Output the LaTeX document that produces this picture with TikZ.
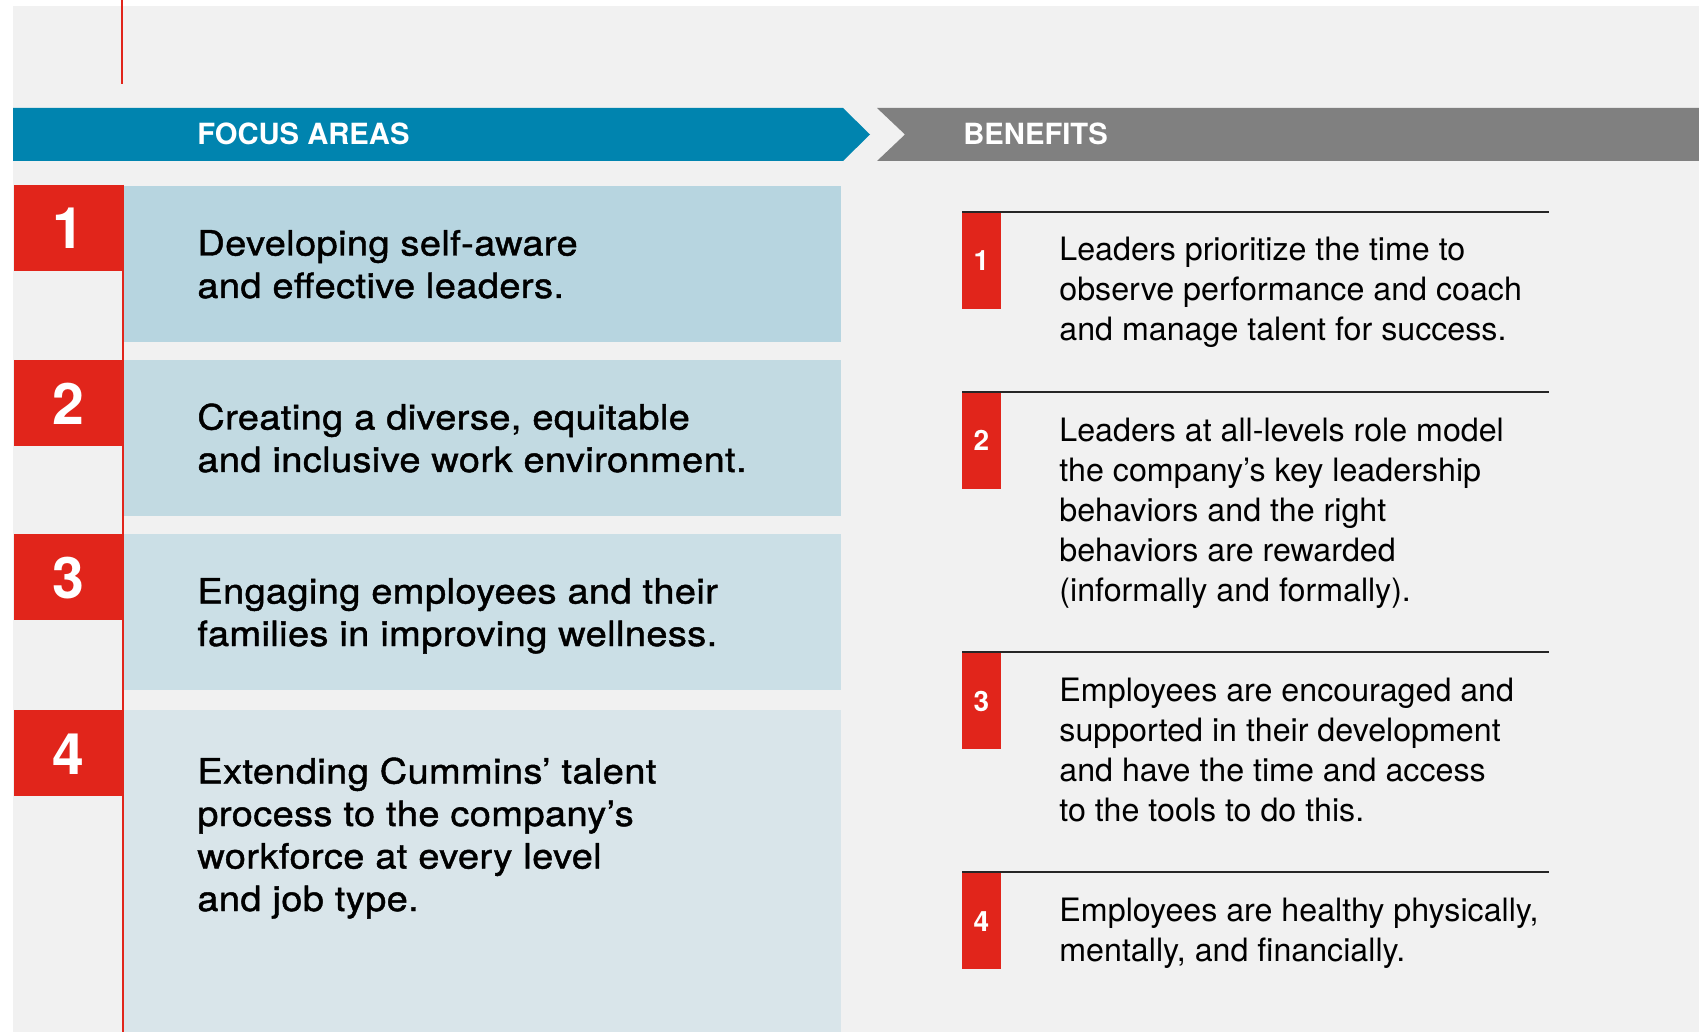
\documentclass[tikz,border=0pt]{standalone}
\usepackage{fontspec}
\setmainfont{TeX Gyre Heros}
\newfontfamily\medfont{TeX Gyre Heros}[FakeBold=1.3,FakeStretch=1.09,LetterSpace=1.2]

\definecolor{cumred}{HTML}{E1251B}
\definecolor{cumblue}{HTML}{0084AF}
\definecolor{cumgrey}{HTML}{808080}
\definecolor{paper}{HTML}{F1F1F1}
\definecolor{rowa}{HTML}{B7D5E0}
\definecolor{rowb}{HTML}{C2DAE2}
\definecolor{rowc}{HTML}{CBDFE6}
\definecolor{rowd}{HTML}{D9E5EA}

\tikzset{
  headtext/.style={text=white,font=\fontsize{14.6}{16}\selectfont\bfseries,anchor=base west,inner sep=0pt},
  bignum/.style={text=white,font=\fontsize{28.6}{30}\selectfont\bfseries,anchor=base,inner sep=0pt},
  smallnum/.style={text=white,font=\fontsize{14}{16}\selectfont\bfseries,anchor=base,inner sep=0pt},
  areatext/.style={font=\fontsize{17.4}{21.25}\selectfont\medfont,align=left,anchor=base west,inner sep=0pt},
  benefittext/.style={font=\fontsize{16.1}{20}\selectfont,align=left,anchor=base west,inner sep=0pt},
  rule/.style={draw=black!85,line width=0.75pt}
}

\begin{document}
\begin{tikzpicture}[x=0.5pt,y=-0.5pt]
  \useasboundingbox (0,0) rectangle (1699,1032);
  \fill[paper] (13,6) rectangle (1699,1032);
  \draw[cumred,line width=1pt] (122,0) -- (122,84);

  % header bars
  \fill[cumblue] (13,108) -- (843,108) -- (870,134.5) -- (843,161) -- (13,161) -- cycle;
  \fill[cumgrey] (877,108) -- (1699,108) -- (1699,161) -- (877,161) -- (905,134.5) -- cycle;
  \node[headtext] (focus) at (197,145) {FOCUS AREAS};
  \node[headtext] (benefits) at (963,145) {BENEFITS};

  % focus areas (y of a text = baseline of its last line)
  \fill[rowa] (124,186) rectangle (841,342);
  \fill[rowb] (124,360) rectangle (841,516);
  \fill[rowc] (124,534) rectangle (841,690);
  \fill[rowd] (124,710) rectangle (841,1032);
  \draw[cumred,line width=1pt] (122.5,185) -- (122.5,1032);
  \fill[cumred] (14,185) rectangle (124,271);
  \fill[cumred] (14,360) rectangle (124,446);
  \fill[cumred] (14,534) rectangle (124,620);
  \fill[cumred] (14,710) rectangle (124,796);
  \node[bignum] (n1) at (68,249) {1};
  \node[bignum] (n2) at (68,424) {2};
  \node[bignum] (n3) at (68,598) {3};
  \node[bignum] (n4) at (68,774) {4};
  \node[areatext] (a1) at (197,298) {Developing self-aware\\and effective leaders.};
  \node[areatext] (a2) at (197,472) {Creating a diverse, equitable\\and inclusive work environment.};
  \node[areatext] (a3) at (197,646) {Engaging employees and their\\families in improving wellness.};
  \node[areatext] (a4) at (197,911) {Extending Cummins’ talent\\process to the company’s\\workforce at every level\\and job type.};

  % benefits
  \foreach \y/\n in {212/1,392/2,652/3,872/4}{
    \draw[rule] (962,\y) -- (1549,\y);
    \fill[cumred] (962,\y+1) rectangle (1001,\y+97);
    \node[smallnum] (m\n) at (981.5,\y+59) {\n};
  }
  \node[benefittext] (b1) at (1059,341) {Leaders prioritize the time to\\observe performance and coach\\and manage talent for success.};
  \node[benefittext] (b2) at (1059,601) {Leaders at all-levels role model\\the company’s key leadership\\behaviors and the right\\behaviors are rewarded\\(informally and formally).};
  \node[benefittext] (b3) at (1059,821) {Employees are encouraged and\\supported in their development\\and have the time and access\\to the tools to do this.};
  \node[benefittext] (b4) at (1059,961) {Employees are healthy physically,\\mentally, and financially.};
\end{tikzpicture}
\end{document}
